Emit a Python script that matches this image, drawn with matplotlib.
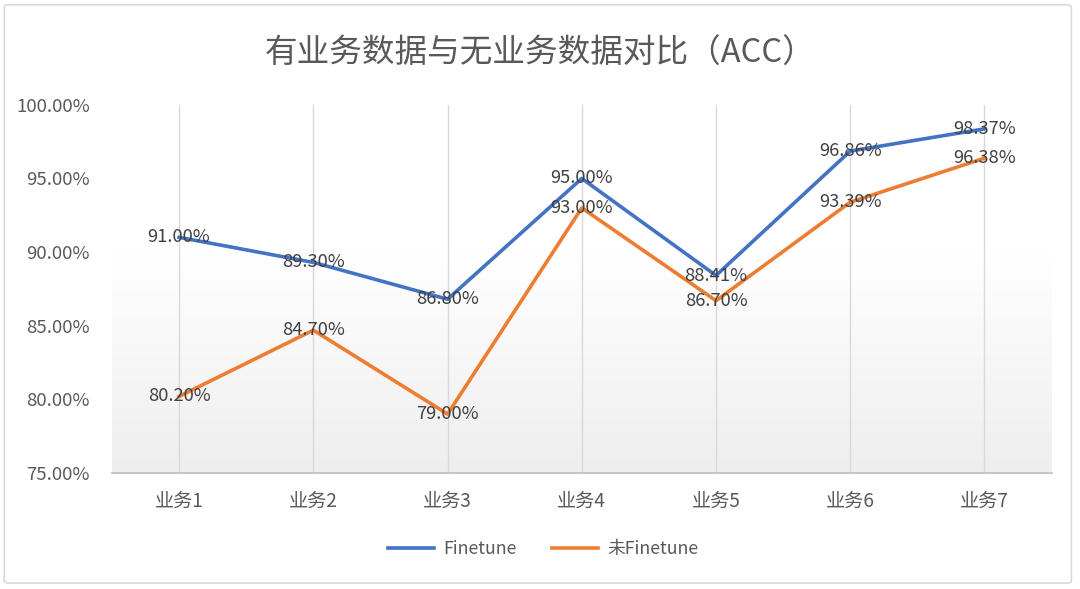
import matplotlib
matplotlib.use("Agg")
import matplotlib.pyplot as plt
import numpy as np
from matplotlib.patches import FancyBboxPatch
from matplotlib.ticker import FuncFormatter
from matplotlib.colors import LinearSegmentedColormap

plt.rcParams['font.family'] = ['Noto Sans CJK SC', 'DejaVu Sans']

title = "有业务数据与无业务数据对比（ACC）"
categories = ["业务1", "业务2", "业务3", "业务4", "业务5", "业务6", "业务7"]
finetune = [91.00, 89.30, 86.80, 95.00, 88.41, 96.86, 98.37]
no_finetune = [80.20, 84.70, 79.00, 93.00, 86.70, 93.39, 96.38]
series_names = ["Finetune", "未Finetune"]
yticks = [75, 80, 85, 90, 95, 100]

fig = plt.figure(figsize=(10.8, 5.89), dpi=100)
ax = fig.add_axes([0.1037, 0.197, 0.870, 0.625])

x = np.arange(len(categories))
ax.set_xlim(-0.5, len(categories) - 0.5)
ax.set_ylim(75, 100)

# gradient background
grad = np.linspace(0, 1, 256).reshape(-1, 1)
cmap = LinearSegmentedColormap.from_list("g", [(0, "#eeeeee"), (0.6, "#ffffff"), (1, "#ffffff")])
ax.imshow(grad, extent=[-0.5, len(categories) - 0.5, 75, 100], origin="lower",
          aspect="auto", cmap=cmap, zorder=0)

for xi in x:
    ax.axvline(xi, color="#d9d9d9", lw=1.0, zorder=1)

c_blue = "#4472C4"
c_orange = "#ED7D31"
ax.plot(x, finetune, color=c_blue, lw=2.6, zorder=3, label=series_names[0], solid_joinstyle="round")
ax.plot(x, no_finetune, color=c_orange, lw=2.6, zorder=3, label=series_names[1], solid_joinstyle="round")

for xi, v in zip(x, finetune):
    ax.text(xi, v, f"{v:.2f}%", ha="center", va="center", fontsize=13.2, color="#404040", zorder=4)
for xi, v in zip(x, no_finetune):
    ax.text(xi, v, f"{v:.2f}%", ha="center", va="center", fontsize=13.2, color="#404040", zorder=4)

ax.set_yticks(yticks)
ax.yaxis.set_major_formatter(FuncFormatter(lambda v, p: f"{v:.2f}%"))
ax.set_xticks(x)
ax.set_xticklabels(categories)
ax.tick_params(axis="both", length=0, labelsize=13.4, colors="#595959")
ax.tick_params(axis="x", labelsize=13.8, pad=13)
ax.tick_params(axis="y", pad=16)
for s in ["top", "right", "left"]:
    ax.spines[s].set_visible(False)
ax.spines["bottom"].set_color("#bfbfbf")
ax.spines["bottom"].set_linewidth(1.2)

fig.text(0.5, 0.908, title, ha="center", va="center", fontsize=23.5, color="#595959")

leg = fig.legend(loc="center", bbox_to_anchor=(0.503, 0.068), ncol=2, frameon=False,
                 fontsize=12.8, handlelength=2.6, columnspacing=2.0, handletextpad=0.5)
for t in leg.get_texts():
    t.set_color("#595959")

border = FancyBboxPatch((0.004, 0.01), 0.988, 0.982, boxstyle="round,pad=0,rounding_size=0.004",
                        transform=fig.transFigure, fill=False, edgecolor="#d9d9d9", lw=1.2)
fig.patches.append(border)

fig.savefig("out.png", dpi=100, facecolor="white")
